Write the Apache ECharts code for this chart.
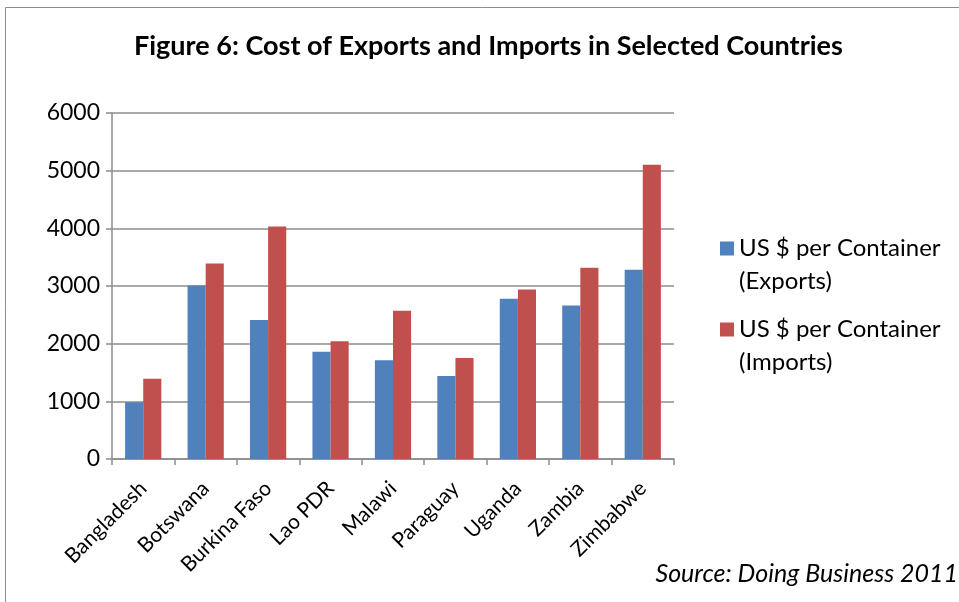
<!DOCTYPE html>
<html>
<head>
<meta charset="utf-8">
<script src="https://cdn.jsdelivr.net/npm/echarts@6/dist/echarts.min.js"></script>
<style>
  html, body { margin: 0; padding: 0; background: #fff; }
  #chart { width: 959px; height: 602px; }
</style>
</head>
<body>
<div id="chart"></div>
<script>
// Cost of trade per container, Doing Business 2011
const countries = ['Bangladesh', 'Botswana', 'Burkina Faso', 'Lao PDR', 'Malawi', 'Paraguay', 'Uganda', 'Zambia', 'Zimbabwe'];
const exportCost = [985, 3010, 2412, 1860, 1713, 1440, 2780, 2664, 3280];
const importCost = [1390, 3390, 4030, 2040, 2570, 1750, 2940, 3315, 5101];
const yTicks = [0, 1000, 2000, 3000, 4000, 5000, 6000];

const font = 'Lato, "Open Sans", sans-serif';
const chart = echarts.init(document.getElementById('chart'), null, { renderer: 'canvas' });

chart.setOption({
  backgroundColor: '#ffffff',
  animation: false,
  textStyle: { fontFamily: font, color: '#000' },
  title: {
    text: 'Figure 6: Cost of Exports and Imports in Selected Countries',
    left: 129,
    top: 28,
    textStyle: { fontFamily: font, fontSize: 27, fontWeight: 'bold', color: '#000' }
  },
  graphic: [
    {
      type: 'rect',
      shape: { x: 5.5, y: 7.5, width: 1200, height: 1200 },
      style: { fill: 'none', stroke: '#8c8c8c', lineWidth: 1 },
      silent: true
    },
    {
      type: 'text',
      right: 1,
      top: 561,
      style: {
        text: 'Source: Doing Business 2011',
        fontFamily: font,
        fontSize: 25,
        fontStyle: 'italic',
        fill: '#000'
      }
    }
  ],
  legend: {
    orient: 'vertical',
    left: 715,
    top: 194,
    itemWidth: 14,
    itemHeight: 14,
    itemGap: -18,
    icon: 'rect',
    // a blank leading line keeps the swatch level with the first text line
    formatter: name => '\n' + name,
    textStyle: { fontFamily: font, fontSize: 24, lineHeight: 33, color: '#000' },
    data: ['US $ per Container\n(Exports)', 'US $ per Container\n(Imports)']
  },
  grid: { left: 112, right: 285, top: 113, bottom: 143 },
  xAxis: {
    type: 'category',
    data: countries,
    axisLine: { lineStyle: { color: '#8c8c8c', width: 1.5 } },
    axisTick: { show: true, alignWithLabel: false, length: 6, lineStyle: { color: '#8c8c8c', width: 1.5 } },
    axisLabel: { rotate: 45, fontFamily: font, fontSize: 21, color: '#000', margin: 26, interval: 0 }
  },
  yAxis: {
    type: 'value',
    min: yTicks[0],
    max: yTicks[yTicks.length - 1],
    interval: 1000,
    axisLine: { show: true, lineStyle: { color: '#8c8c8c', width: 1.5 } },
    axisTick: { show: true, length: 6, lineStyle: { color: '#8c8c8c', width: 1.5 } },
    axisLabel: { fontFamily: font, fontSize: 23, color: '#000', margin: 12, formatter: v => String(v) },
    splitLine: { show: true, lineStyle: { color: '#8c8c8c', width: 1.5 } }
  },
  series: [
    {
      name: 'US $ per Container\n(Exports)',
      type: 'bar',
      data: exportCost,
      itemStyle: { color: '#4F81BD' },
      barGap: '0%',
      barCategoryGap: '42%'
    },
    {
      name: 'US $ per Container\n(Imports)',
      type: 'bar',
      data: importCost,
      itemStyle: { color: '#C0504D' },
      barGap: '0%',
      barCategoryGap: '42%'
    }
  ]
});
</script>
</body>
</html>
